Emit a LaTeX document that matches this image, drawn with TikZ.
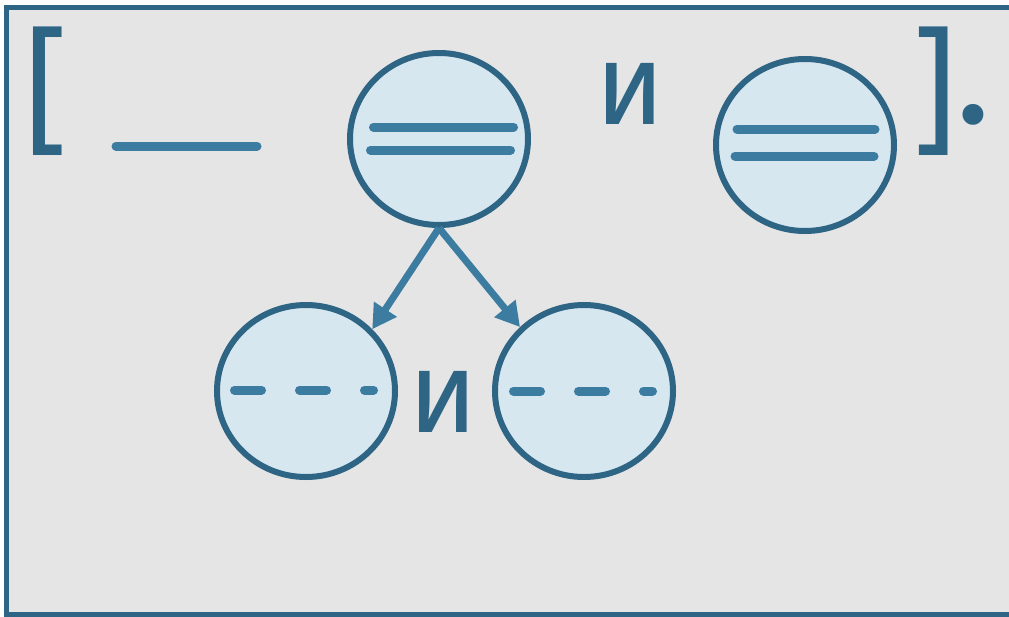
\documentclass[tikz,border=0pt]{standalone}
\usepackage{fontspec}
\setmainfont{Fira Sans}
\usetikzlibrary{shapes.geometric,arrows.meta}
\definecolor{frameblue}{HTML}{2E6585}
\definecolor{lineblue}{HTML}{3B7CA0}
\definecolor{bubblefill}{HTML}{D7E7F0}
\definecolor{panelgray}{HTML}{E5E5E5}
\tikzset{
  bubble/.style={ellipse, draw=frameblue, fill=bubblefill, line width=6pt, minimum width=178pt, minimum height=172pt, inner sep=0pt},
  stroke/.style={draw=lineblue, line width=9pt, line cap=round},
  dashstroke/.style={stroke, dash pattern=on 27pt off 38pt},
  glyph/.style={text=frameblue, font=\fontsize{116}{116}\selectfont, inner sep=0pt},
  bracket/.style={text=frameblue, font=\fontsize{138}{138}\selectfont, inner sep=0pt},
  link/.style={draw=lineblue, line width=7pt, -{Triangle[length=24pt,width=26pt]}},
}
\begin{document}
\begin{tikzpicture}[x=1pt,y=-1pt]
\useasboundingbox (0,0) rectangle (1009,616);
\fill[white] (0,0) rectangle (1009,616);
\draw[frameblue, fill=panelgray, line width=5pt] (6,7) rectangle (1030,614);
% brackets and text
\node[bracket] (lb) at (47,91) {[};
\node[bracket] (rb) at (935,91) {]};
\node[bracket, font=\fontsize{150}{150}\selectfont] (dot) at (973,115) {.};
\node[glyph] (and1) at (630,94) {и};
\node[glyph] (and2) at (443,402) {и};
% blank line
\coordinate (bl1) at (116,146);
\coordinate (bl2) at (257,146);
\draw[stroke] (bl1) -- (bl2);
% bubbles
\node[bubble] (c1) at (439,139) {};
\node[bubble] (c2) at (805,145) {};
\node[bubble] (c3) at (306,391) {};
\node[bubble] (c4) at (584,391) {};
% double lines
\draw[stroke] (373.5,127) -- (513.5,127);
\draw[stroke] (370.5,150) -- (510.5,150);
\draw[stroke] (737,129) -- (875,129);
\draw[stroke] (735,156) -- (874,156);
% dashed lines
\draw[dashstroke] (234.5,390) -- (373.5,390);
\draw[dashstroke] (513.5,391) -- (652.5,391);
% arrows
\draw[link] (c1.south) -- (c3.43);
\draw[link] (c1.south) -- (c4.135);
\end{tikzpicture}
\end{document}
